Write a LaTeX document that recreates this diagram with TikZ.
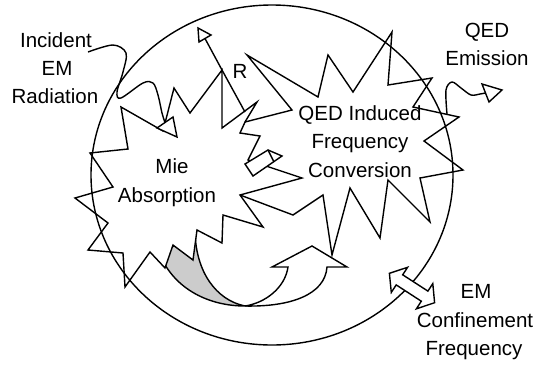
\documentclass[tikz,border=0pt]{standalone}
\usepackage{fontspec}
\setmainfont{Liberation Sans}
\begin{document}
\begin{tikzpicture}[x=1pt,y=-1pt,
  ln/.style={line width=1.4pt,draw=black},
  whiteshape/.style={ln,fill=white},
  crescent/.style={ln,fill=black!20},
  lbl/.style={font=\fontsize{20.5}{24}\selectfont,anchor=base,inner sep=0pt}]
\useasboundingbox (0,0) rectangle (536,365);

% curved up arrow (behind the stars)
\draw[crescent] (160,255) .. controls (175,290) and (210,306) .. (245,306)
  .. controls (216,300) and (196,272) .. (195,232) -- cycle;
\draw[whiteshape] (245,306) .. controls (265,303) and (285,288) .. (288,267)
  -- (272,267) -- (312,246) -- (347,267) -- (327,267)
  .. controls (325,295) and (290,307) .. (245,306) -- cycle;

% QED star
\draw[whiteshape] (245,122) -- (292,110) -- (247,55) -- (318,97) -- (328,55) -- (353,92)
  -- (392,32) -- (388,85) -- (432,78) -- (413,107) -- (459,117) -- (424,141)
  -- (463,170) -- (420,178) -- (430,222) -- (388,180) -- (380,238) -- (350,188)
  -- (332,255) -- (323,195) -- (293,215) -- (240,195) -- (225,150) -- cycle;

% Mie star
\draw[whiteshape] (121,107) -- (163,131) -- (174,88) -- (190,113) -- (222,70)
  -- (222,128) -- (257,102) -- (245,122) -- (240,133) -- (260,136) -- (248,160)
  -- (302,178) -- (240,195) -- (263,227) -- (223,215) -- (222,243) -- (197,230)
  -- (193,260) -- (173,245) -- (165,268) -- (150,252) -- (125,287) -- (123,253)
  -- (88,250) -- (108,223) -- (75,198) -- (113,187) -- (90,153) -- (128,149) -- cycle;
\coordinate (rbase) at (222,70);
\coordinate (rinner) at (245,112);
\draw[ln] (rbase) -- (rinner);

% small block between the stars
\draw[whiteshape] (245,164) -- (268,150) -- (282,156) -- (253,176) -- cycle;
\draw[ln] (268,150) -- (274,162);

% confinement ellipse
\draw[ln] (272,175) ellipse [x radius=181pt, y radius=170pt];

% EM confinement double arrow
\draw[whiteshape] (389.4,273.3) -- (407.6,267.3) -- (402.7,274.8) -- (427.9,291.1)
  -- (432.8,283.6) -- (434.6,302.7) -- (416.4,308.8) -- (421.3,301.2)
  -- (396.2,284.9) -- (391.3,292.4) -- cycle;

% R arrow
\coordinate (rhead) at (205,38.5);
\draw[ln] (rbase) -- (rhead);
\draw[whiteshape] (198,28) -- (199,42) -- (211,35) -- cycle;

% incident wave
\coordinate (incstart) at (88,52);
\coordinate (incend) at (165,122.5);
\draw[ln] plot[smooth,tension=0.55] coordinates {(incstart) (113,45) (126,53) (123,72) (117,92) (121,98) (143,83) (153,83) (158,95) (162,113) (incend)};
\draw[whiteshape] (157,128) -- (173,117) -- (177,137) -- cycle;

% emission wave
\coordinate (emstart) at (447,114);
\coordinate (emend) at (485.5,93);
\draw[ln] plot[smooth,tension=0.55] coordinates {(emstart) (446,90) (452,82) (461,88) (471,95) (480,94) (emend)};
\draw[whiteshape] (482,84) -- (502,90) -- (489,102) -- cycle;

% labels
\node[lbl] (inc1) at (56,47) {Incident};
\node[lbl] (inc2) at (57,75) {EM};
\node[lbl] (inc3) at (55,103) {Radiation};
\node[lbl] (rl) at (240,78) {R};
\node[lbl] (qe1) at (487,37) {QED};
\node[lbl] (qe2) at (487,65) {Emission};
\node[lbl] (mie1) at (172,173) {Mie};
\node[lbl] (mie2) at (167,202) {Absorption};
\node[lbl] (qf1) at (360,120) {QED Induced};
\node[lbl] (qf2) at (360,148) {Frequency};
\node[lbl] (qf3) at (360,177) {Conversion};
\node[lbl] (em1) at (476,298) {EM};
\node[lbl] (em2) at (475,327) {Confinement};
\node[lbl] (em3) at (474,355) {Frequency};
\end{tikzpicture}
\end{document}
